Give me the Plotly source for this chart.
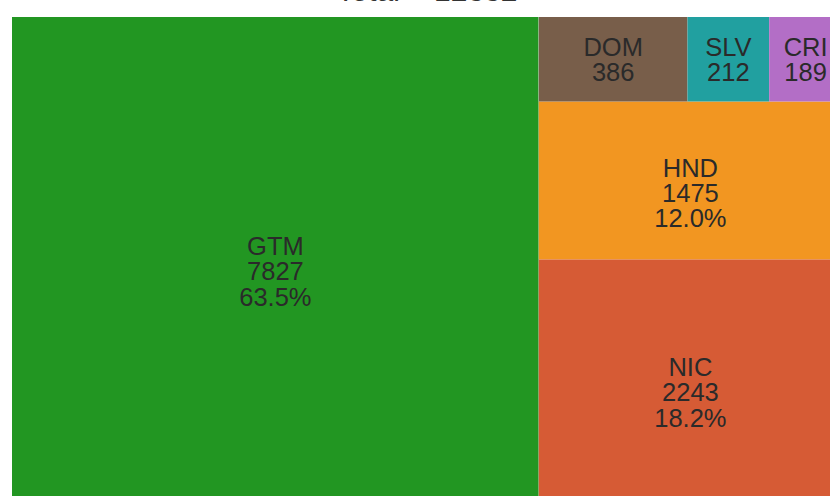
import plotly.graph_objects as go

# leaf data
labels = ["GTM", "DOM", "SLV", "CRI", "HND", "NIC"]
values = [7827, 386, 212, 189, 1475, 2243]
colors = ["#229622", "#785E4A", "#21A0A0", "#B36EC6", "#F29621", "#D65B35"]
show_percent = [True, False, False, False, True, True]
# grouping used to reproduce the tiling of the reference
groups = ["", "top", "top", "top", "rest", "rest"]
group_ids = ["rest", "top"]
group_parents = ["", "rest"]

total = sum(values)
pct = [f"{v / total * 100:.1f}%" for v in values]


def fmt(parts):
    return "<br>".join(f"<span style='font-size:25.5px'>{p}</span>" for p in parts)


texts = [
    fmt(["\u00a0", l, v, p]) if s else fmt([l, v])
    for l, v, p, s in zip(labels, values, pct, show_percent)
]

all_ids = [labels[0]] + group_ids + labels[1:]
all_parents = [groups[0]] + group_parents + groups[1:]
all_values = [values[0]] + [0, 0] + values[1:]
all_text = [texts[0]] + ["", ""] + texts[1:]
all_colors = [colors[0]] + ["white", "white"] + colors[1:]

fig = go.Figure(
    go.Treemap(
        ids=all_ids,
        labels=all_ids,
        parents=all_parents,
        values=all_values,
        branchvalues="remainder",
        text=all_text,
        texttemplate="%{text}",
        textposition="middle center",
        textfont=dict(family="Arial, Liberation Sans, sans-serif", size=19.5, color="#2a2a2a"),
        marker=dict(colors=all_colors, line=dict(width=0), pad=dict(t=0, l=0, r=0, b=0)),
        pathbar=dict(visible=False),
        sort=False,
        tiling=dict(packing="slice-dice", pad=0),
    )
)

fig.update_layout(
    width=854,
    height=512,
    margin=dict(l=12, r=12, t=17, b=12),
    paper_bgcolor="white",
    title=dict(
        text=f"Total = {total}",
        x=0.5,
        xanchor="center",
        yref="container",
        y=0.998,
        yanchor="bottom",
        font=dict(family="Arial, Liberation Sans, sans-serif", size=30, color="#333333"),
    ),
)

fig.write_html(
    "out.html",
    config={"displayModeBar": False},
    post_script="document.body.style.margin='0';",
)
